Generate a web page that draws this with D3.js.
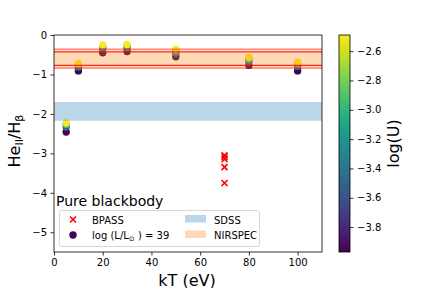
<!DOCTYPE html>
<html><head><meta charset="utf-8">
<script src="https://cdn.jsdelivr.net/npm/d3@7"></script>
<style>body{margin:0;background:#fff}svg{display:block;font-family:"DejaVu Sans",sans-serif}</style>
</head><body><svg id="c" width="432" height="288"></svg>
<script>
const kT = [5, 10, 20, 30, 50, 80, 100];
const logU = [-3.97, -3.48, -2.98, -2.49];
const heiiLowU  = [-2.46, -0.91, -0.45, -0.42, -0.55, -0.77, -0.91];
const heiiMidU1 = [-2.33, -0.82, -0.35, -0.33, -0.46, -0.67, -0.80];
const heiiMidU2 = [-2.27, -0.76, -0.29, -0.28, -0.40, -0.61, -0.74];
const heiiHighU = [-2.23, -0.72, -0.25, -0.24, -0.36, -0.57, -0.69];
const bpassKT = [70, 70, 70, 70, 70];
const bpassHeii = [-3.05, -3.10, -3.15, -3.35, -3.75];
const sdssBand = [-2.175, -1.70];
const nirspecBand = [-0.85, -0.36];
const nirspecLines = [-0.36, -0.43, -0.77, -0.84];
const nirspecLineAlpha = [0.5, 0.8, 0.8, 0.5];
const xTicks = [0, 20, 40, 60, 80, 100];
const yTicks = [0, -1, -2, -3, -4, -5];
const cbTicks = [-2.6, -2.8, -3.0, -3.2, -3.4, -3.6, -3.8];
const cbRange = [-3.97, -2.49];

const svg = d3.select("#c");
const L = 54, R = 322, T = 35, B = 252;
const x = d3.scaleLinear().domain([0, 110]).range([L, R]);
const y = d3.scaleLinear().domain([-5.5, 0]).range([B, T]);
const color = d3.scaleSequential(d3.interpolateViridis).domain(cbRange);
const minus = v => String(v).replace("-", "\u2212");

// scatter points (under bands)
const series = [heiiLowU, heiiMidU1, heiiMidU2, heiiHighU];
series.forEach((vals, i) => {
  svg.append("g").selectAll("circle").data(vals).join("circle")
    .attr("cx", (d, j) => x(kT[j])).attr("cy", d => y(d)).attr("r", 3.7)
    .attr("fill", color(logU[i]));
});

// bands
const clip = svg.append("defs").append("clipPath").attr("id", "pc")
  .append("rect").attr("x", L).attr("y", T).attr("width", R - L).attr("height", B - T);
const bands = svg.append("g").attr("clip-path", "url(#pc)");
bands.append("rect").attr("x", L).attr("width", R - L)
  .attr("y", y(sdssBand[1])).attr("height", y(sdssBand[0]) - y(sdssBand[1]))
  .attr("fill", "#1f77b4").attr("fill-opacity", 0.3);
bands.append("rect").attr("x", L).attr("width", R - L)
  .attr("y", y(nirspecBand[1])).attr("height", y(nirspecBand[0]) - y(nirspecBand[1]))
  .attr("fill", "#ff7f0e").attr("fill-opacity", 0.3);
nirspecLines.forEach((v, i) => {
  bands.append("line").attr("x1", L).attr("x2", R).attr("y1", y(v)).attr("y2", y(v))
    .attr("stroke", "red").attr("stroke-opacity", nirspecLineAlpha[i]).attr("stroke-width", 1.3);
});

// BPASS crosses
const cross = (g, cx, cy, s) => {
  g.append("path").attr("d", `M${cx - s},${cy - s}L${cx + s},${cy + s}M${cx - s},${cy + s}L${cx + s},${cy - s}`)
    .attr("stroke", "red").attr("stroke-width", 1.6).attr("fill", "none");
};
const bg = svg.append("g");
bpassHeii.forEach((v, i) => cross(bg, x(bpassKT[i]), y(v), 3));

// axes
const xa = svg.append("g").attr("transform", `translate(0,${B})`)
  .call(d3.axisBottom(x).tickValues(xTicks).tickSize(3.5).tickPadding(3.5));
const ya = svg.append("g").attr("transform", `translate(${L},0)`)
  .call(d3.axisLeft(y).tickValues(yTicks).tickSize(3.5).tickPadding(3.5).tickFormat(minus));
[xa, ya].forEach(a => {
  a.select(".domain").remove();
  a.selectAll("text").attr("font-size", 10).attr("fill", "#000").attr("font-family", "DejaVu Sans");
  a.selectAll("line").attr("stroke", "#000").attr("stroke-width", 0.8);
});
svg.append("rect").attr("x", L).attr("y", T).attr("width", R - L).attr("height", B - T)
  .attr("fill", "none").attr("stroke", "#000").attr("stroke-width", 0.8);

// axis labels
svg.append("text").attr("x", 187).attr("y", 285.5).attr("text-anchor", "middle")
  .attr("font-size", 16).text("kT (eV)");
const yl = svg.append("text").attr("transform", `translate(19.5,141) rotate(-90)`)
  .attr("text-anchor", "middle").attr("font-size", 16);
yl.append("tspan").text("He");
yl.append("tspan").attr("font-size", 11).attr("dy", 3).text("II");
yl.append("tspan").attr("dy", -3).text("/H");
yl.append("tspan").attr("font-size", 11).attr("dy", 3).text("β");

// legend
svg.append("text").attr("x", 56).attr("y", 206).attr("font-size", 14).text("Pure blackbody");
const lg = svg.append("g");
lg.append("rect").attr("x", 59.5).attr("y", 210.5).attr("width", 200).attr("height", 36).attr("rx", 2)
  .attr("fill", "#fff").attr("fill-opacity", 0.8).attr("stroke", "#ccc").attr("stroke-width", 0.8);
cross(lg, 73, 219.5, 3);
lg.append("text").attr("x", 92).attr("y", 223.5).attr("font-size", 10).text("BPASS");
lg.append("circle").attr("cx", 73).attr("cy", 235).attr("r", 3.7).attr("fill", color(cbRange[0]));
const lt = lg.append("text").attr("x", 92).attr("y", 239).attr("font-size", 10);
lt.append("tspan").text("log (L/L");
lt.append("tspan").attr("font-size", 7).attr("dy", 2).text("⊙");
lt.append("tspan").attr("dy", -2).text(" ) = 39");
lg.append("rect").attr("x", 185).attr("y", 215).attr("width", 21).attr("height", 7.5)
  .attr("fill", "#1f77b4").attr("fill-opacity", 0.3);
lg.append("text").attr("x", 214).attr("y", 223.5).attr("font-size", 10).text("SDSS");
lg.append("rect").attr("x", 185).attr("y", 230.5).attr("width", 21).attr("height", 7.5)
  .attr("fill", "#ff7f0e").attr("fill-opacity", 0.3);
lg.append("text").attr("x", 214).attr("y", 239).attr("font-size", 10).text("NIRSPEC");

// colorbar
const cbL = 339, cbR = 350;
const cy = d3.scaleLinear().domain(cbRange).range([B, T]);
const grad = svg.select("defs").append("linearGradient").attr("id", "vg")
  .attr("x1", 0).attr("y1", 1).attr("x2", 0).attr("y2", 0);
d3.range(0, 1.0001, 0.05).forEach(t => {
  grad.append("stop").attr("offset", t).attr("stop-color", d3.interpolateViridis(t));
});
svg.append("rect").attr("x", cbL).attr("y", T).attr("width", cbR - cbL).attr("height", B - T)
  .attr("fill", "url(#vg)").attr("stroke", "#000").attr("stroke-width", 0.8);
const ca = svg.append("g").attr("transform", `translate(${cbR},0)`)
  .call(d3.axisRight(cy).tickValues(cbTicks).tickSize(3.5).tickPadding(3.5).tickFormat(d => minus(d.toFixed(1))));
ca.select(".domain").remove();
ca.selectAll("text").attr("font-size", 10).attr("fill", "#000").attr("font-family", "DejaVu Sans");
ca.selectAll("line").attr("stroke", "#000").attr("stroke-width", 0.8);
svg.append("text").attr("transform", `translate(399,${(T + B) / 2}) rotate(-90)`)
  .attr("text-anchor", "middle").attr("font-size", 16).text("log(U)");
</script></body></html>
